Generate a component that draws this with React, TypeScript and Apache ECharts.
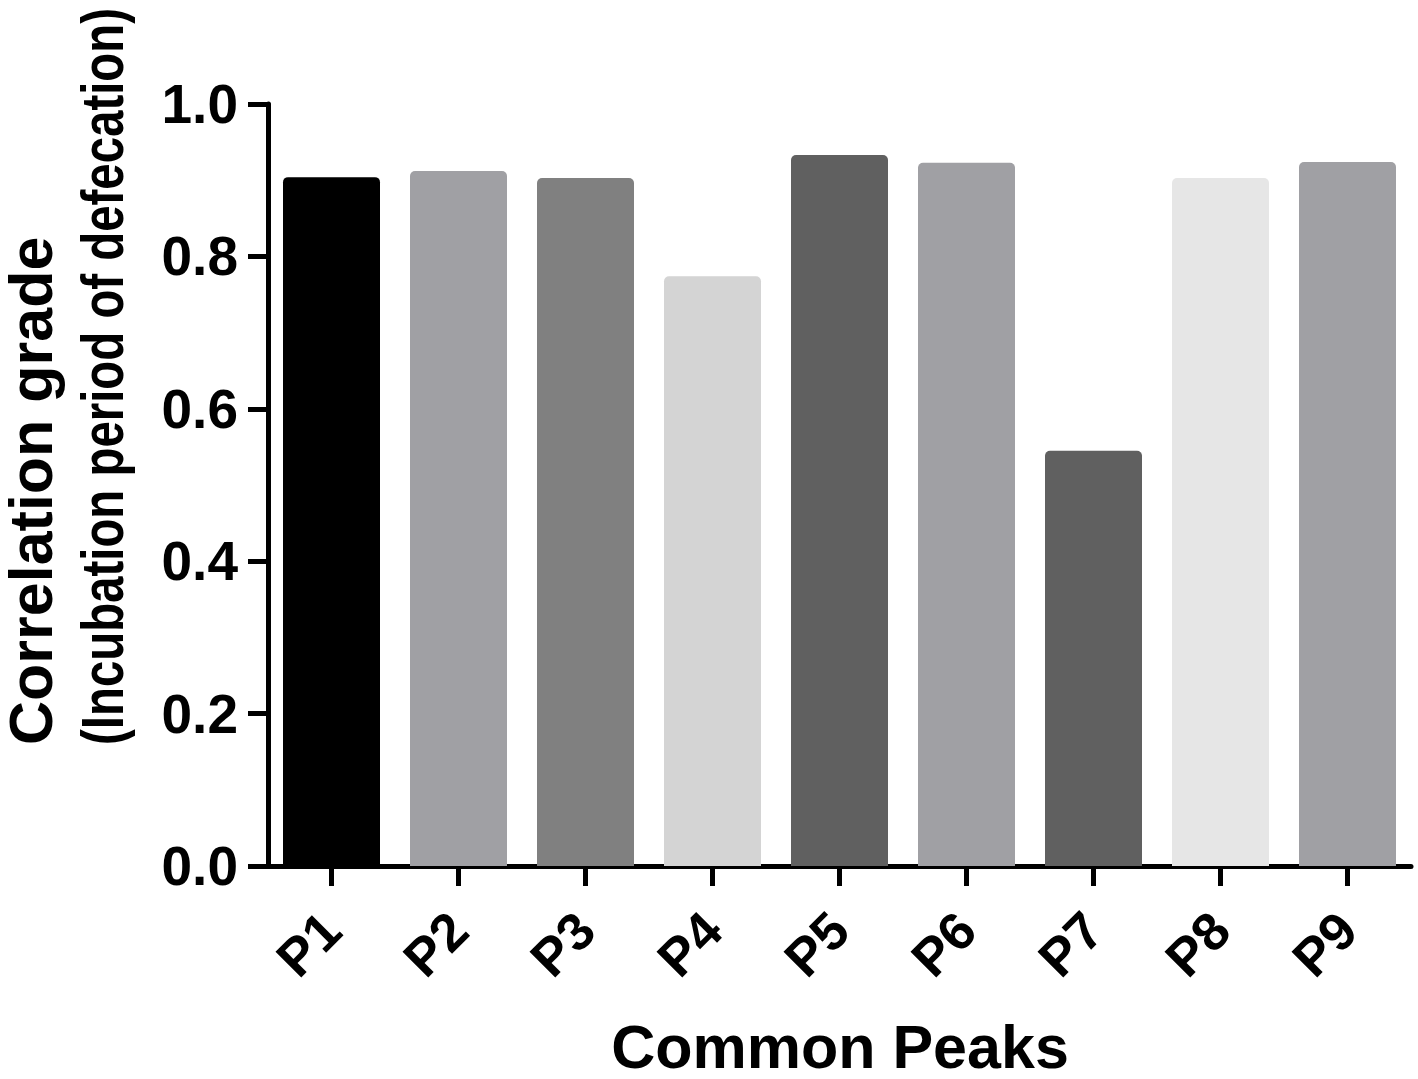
import React, { useEffect, useRef } from "react";
import * as echarts from "echarts";

const categories = ["P1", "P2", "P3", "P4", "P5", "P6", "P7", "P8", "P9"];
const values = [0.904, 0.912, 0.903, 0.774, 0.933, 0.923, 0.545, 0.903, 0.924];
const barColors = ["#000000", "#a0a0a4", "#808080", "#d4d4d4", "#606060", "#a0a0a4", "#606060", "#e6e6e6", "#a0a0a4"];
const yTitleLine1 = "Correlation grade";
const yTitleLine2 = "(Incubation period of defecation)";
const xTitle = "Common Peaks";

const FONT = "'Liberation Sans', Arial, Helvetica, sans-serif";

export default function App() {
  const ref = useRef<HTMLDivElement>(null);
  useEffect(() => {
    if (!ref.current) return;
    const chart = echarts.init(ref.current, null, { renderer: "svg" });
    chart.setOption({
      animation: false,
      backgroundColor: "#ffffff",
      grid: { left: 268, right: 7, top: 104, bottom: 213, containLabel: false },
      xAxis: {
        type: "category",
        data: categories,
        boundaryGap: true,
        axisLine: { show: true, lineStyle: { color: "#000", width: 5 } },
        axisTick: { show: true, alignWithLabel: true, length: 20, lineStyle: { color: "#000", width: 5 } },
        axisLabel: {
          rotate: 45,
          margin: 55,
          color: "#000",
          fontSize: 53,
          fontWeight: "bold",
          fontFamily: FONT,
        },
        splitLine: { show: false },
      },
      yAxis: {
        type: "value",
        min: 0,
        max: 1,
        interval: 0.2,
        axisLine: { show: true, lineStyle: { color: "#000", width: 5 } },
        axisTick: { show: true, length: 20, lineStyle: { color: "#000", width: 5 } },
        axisLabel: {
          margin: 30,
          color: "#000",
          fontSize: 55,
          fontWeight: "bold",
          fontFamily: FONT,
          formatter: (v: number) => v.toFixed(1),
        },
        splitLine: { show: false },
      },
      series: [
        {
          type: "bar",
          barWidth: 97,
          data: values.map((v, i) => ({
            value: v,
            itemStyle: { color: barColors[i], borderRadius: [5, 5, 0, 0] },
          })),
        },
      ],
      graphic: [
        {
          type: "text",
          x: 31,
          y: 745,
          rotation: Math.PI / 2,
          style: {
            text: yTitleLine1,
            fill: "#000",
            font: `bold 61px ${FONT}`,
            lineHeight: 46,
            textAlign: "left",
            textVerticalAlign: "middle",
          },
        },
        {
          type: "text",
          x: 102,
          y: 745,
          rotation: Math.PI / 2,
          scaleX: 0.79,
          style: {
            text: yTitleLine2,
            fill: "#000",
            font: `bold 60px ${FONT}`,
            lineHeight: 48,
            textAlign: "left",
            textVerticalAlign: "middle",
          },
        },
        {
          type: "text",
          x: 840,
          y: 1047,
          style: {
            text: xTitle,
            fill: "#000",
            font: `bold 61px ${FONT}`,
            lineHeight: 46,
            textAlign: "center",
            textVerticalAlign: "middle",
          },
        },
      ],
    });
    return () => chart.dispose();
  }, []);
  return (
    <div
      ref={ref}
      style={{ position: "absolute", left: 0, top: 0, width: 1418, height: 1079 }}
    />
  );
}
